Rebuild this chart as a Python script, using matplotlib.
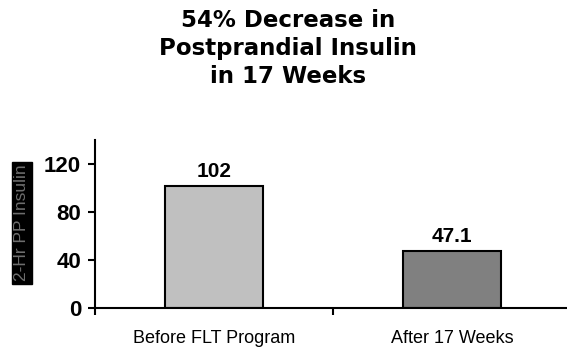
import matplotlib
matplotlib.use("Agg")
import matplotlib.pyplot as plt

categories = ["Before FLT Program", "After 17 Weeks"]
values = [102, 47.1]
value_labels = ["102", "47.1"]
bar_colors = ["#C0C0C0", "#808080"]
yticks = [0, 40, 80, 120]
title_text = "54% Decrease in\nPostprandial Insulin\nin 17 Weeks"
ylabel_text = "2-Hr PP Insulin"

fig = plt.figure(figsize=(5.67, 3.48), dpi=100)
ax = fig.add_axes([95/567, 40/348, 476/567, 168/348])

x = list(range(len(categories)))
ax.bar(x, values, width=0.41, color=bar_colors, edgecolor="black", linewidth=1.5, zorder=2)
ax.set_xlim(-0.5, 1.5)
ax.set_ylim(0, 140)

for xi, v, lab in zip(x, values, value_labels):
    ax.annotate(lab, (xi, v), xytext=(0, 6.5), textcoords="offset points",
                ha="center", va="baseline", fontsize=15, fontweight="bold",
                family="Liberation Sans")

ax.set_yticks(yticks)
ax.set_yticklabels([str(t) for t in yticks], fontsize=16, fontweight="bold", family="Liberation Sans")
ax.set_xticks(x)
ax.set_xticklabels(categories, fontsize=13, family="Liberation Sans")
ax.set_xticks([-0.5, 0.5, 1.5], minor=True)
ax.tick_params(axis="x", which="major", length=0, pad=16)
ax.tick_params(axis="x", which="minor", length=5, width=1.5, direction="out")
ax.tick_params(axis="y", length=5, width=1.5, direction="out", pad=5)

for s in ["top", "right"]:
    ax.spines[s].set_visible(False)
for s in ["left", "bottom"]:
    ax.spines[s].set_linewidth(1.5)
    ax.spines[s].set_zorder(3)

fig.text(288/567, 1 - 9/348, title_text, ha="center", va="top", fontsize=16.5,
         fontweight="bold", family="DejaVu Sans", linespacing=1.28, multialignment="center")

fig.text(22/567, 1 - 223/348, ylabel_text, rotation=90, ha="center", va="center",
         fontsize=12.5, color="#6e6e6e", family="Liberation Sans",
         bbox=dict(facecolor="black", edgecolor="black", pad=2))

fig.savefig("out.png", dpi=100)
